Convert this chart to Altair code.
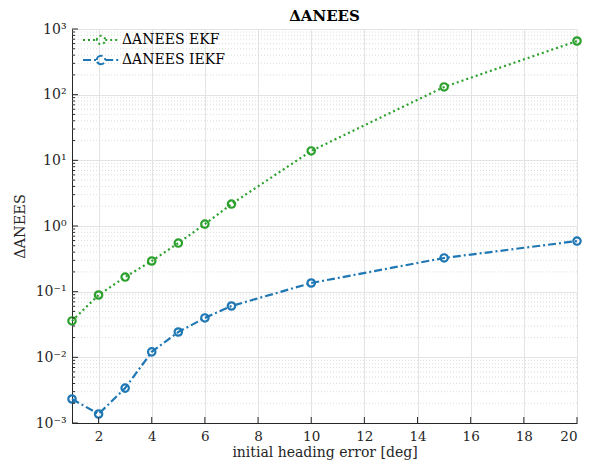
import altair as alt
import pandas as pd

# ---- data ----
x_vals = [1, 2, 3, 4, 5, 6, 7, 10, 15, 20]
ekf_vals = [0.0358, 0.089, 0.167, 0.293, 0.55, 1.07, 2.16, 13.9, 131, 656]
iekf_vals = [0.00232, 0.00137, 0.0034, 0.0121, 0.0243, 0.0398, 0.0605, 0.1355, 0.326, 0.59]
series_names = ["ΔANEES EKF", "ΔANEES IEKF"]
x_ticks = [2, 4, 6, 8, 10, 12, 14, 16, 18, 20]
y_major = [1e-3, 1e-2, 1e-1, 1e0, 1e1, 1e2, 1e3]
y_minor = [m * 10.0 ** k for k in range(-3, 3) for m in range(2, 10)]

df = pd.DataFrame({
    "x": x_vals + x_vals,
    "v": ekf_vals + iekf_vals,
    "series": [series_names[0]] * len(x_vals) + [series_names[1]] * len(x_vals),
})

W, H = 505, 394
FONT = "DejaVu Serif"
XT = "initial heading error [deg]"
YT = "ΔANEES"
colors = ["#2ca02c", "#1f77b4"]
dashes = [[2, 3], [8, 3, 2, 3]]

xscale = alt.Scale(domain=[1, 20], nice=False, zero=False)
yscale = alt.Scale(type="log", domain=[1e-3, 1e3], nice=False)

label_expr = ("datum.value < 0.005 ? '10⁻³' : datum.value < 0.05 ? '10⁻²' : "
              "datum.value < 0.5 ? '10⁻¹' : datum.value < 5 ? '10⁰' : "
              "datum.value < 50 ? '10¹' : datum.value < 500 ? '10²' : '10³'")

legend_path = ("M-3,0L-0.7,0M0.7,0L3,0"
               "M-0.7,0A0.7,0.7 0 1,1 0.7,0A0.7,0.7 0 1,1 -0.7,0")

legend = alt.Legend(
    title=None, orient="none", legendX=22, legendY=4,
    symbolType=legend_path, symbolSize=144, symbolStrokeWidth=2,
    symbolFillColor="transparent", labelFont=FONT, labelFontSize=14,
    labelColor="#000000", labelOffset=14, rowPadding=2, padding=0,
)

x_axis = alt.Axis(values=x_ticks, title=XT, grid=True, ticks=False,
                  labelPadding=6, titlePadding=3, labelFontSize=13.5, titleFontSize=14)
y_axis = alt.Axis(values=y_major, labelExpr=label_expr, title=YT, grid=True,
                  ticks=False, labelPadding=6, titlePadding=8)

minor_grid = alt.Chart(pd.DataFrame({"v": y_minor})).mark_rule(
    color="#d4d4d4", strokeDash=[1, 2], strokeWidth=0.8
).encode(
    y=alt.Y("v:Q", scale=yscale, axis=y_axis, title=YT),
    x=alt.value(0), x2=alt.value(W),
)

lines = alt.Chart(df).mark_line(strokeWidth=2.2).encode(
    x=alt.X("x:Q", scale=xscale, axis=x_axis, title=XT),
    y=alt.Y("v:Q", scale=yscale, axis=y_axis, title=YT),
    color=alt.Color("series:N", scale=alt.Scale(domain=series_names, range=colors), legend=legend),
    strokeDash=alt.StrokeDash("series:N", scale=alt.Scale(domain=series_names, range=dashes), legend=legend),
)

points = alt.Chart(df).mark_point(shape="circle", filled=False, size=55, strokeWidth=2.2, opacity=1).encode(
    x=alt.X("x:Q", scale=xscale, axis=x_axis, title=XT),
    y=alt.Y("v:Q", scale=yscale, axis=y_axis, title=YT),
    color=alt.Color("series:N", scale=alt.Scale(domain=series_names, range=colors), legend=None),
)

ytick_major = alt.Chart(pd.DataFrame({"v": y_major})).mark_rule(color="#262626", strokeWidth=1).encode(
    y=alt.Y("v:Q", scale=yscale, axis=y_axis, title=YT), x=alt.value(0), x2=alt.value(6),
)
ytick_minor = alt.Chart(pd.DataFrame({"v": y_minor})).mark_rule(color="#262626", strokeWidth=1).encode(
    y=alt.Y("v:Q", scale=yscale, axis=y_axis, title=YT), x=alt.value(0), x2=alt.value(3),
)
xtick = alt.Chart(pd.DataFrame({"x": x_ticks})).mark_rule(color="#262626", strokeWidth=1).encode(
    x=alt.X("x:Q", scale=xscale, axis=x_axis, title=XT), y=alt.value(H), y2=alt.value(H - 6),
)

chart = alt.layer(minor_grid, lines, points, ytick_major, ytick_minor, xtick).properties(
    width=W, height=H,
    title=alt.TitleParams("ΔANEES", font=FONT, fontSize=15, fontWeight="bold", color="#000000", offset=-2),
    autosize=alt.AutoSizeParams(type="none"),
    padding={"left": 64, "top": 21, "right": 8, "bottom": 37},
).configure_view(stroke=None).configure_axis(
    domainColor="#262626", domainWidth=1, gridColor="#e3e3e3", gridWidth=1,
    labelFont=FONT, labelFontSize=14, labelColor="#262626",
    titleFont=FONT, titleFontSize=14.5, titleColor="#262626", titleFontWeight="normal",
)

chart.save("out.html", embed_options={"renderer": "svg", "actions": False})
